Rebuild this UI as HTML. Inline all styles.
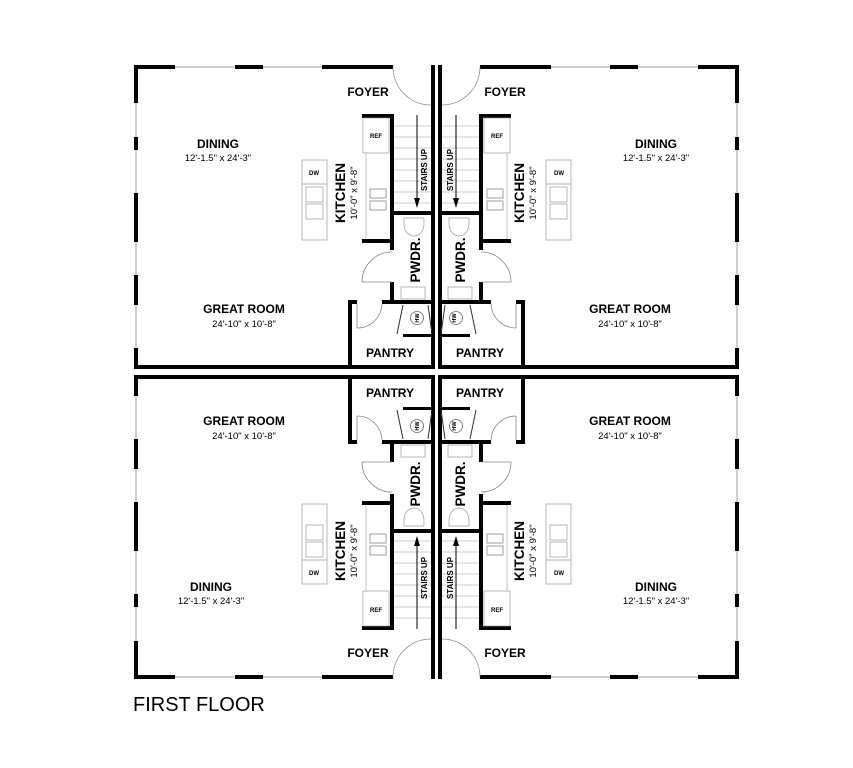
<!DOCTYPE html>
<html><head><meta charset="utf-8"><style>
body{margin:0;background:#fff;}
svg{display:block;}
text{font-family:"Liberation Sans",sans-serif;fill:#000;}
.b{font-weight:bold;font-size:12px;}
.k{font-weight:bold;font-size:13.5px;}
.d{font-size:9.5px;}
.s{font-weight:bold;font-size:8px;}
.t{font-size:5.5px;font-weight:bold;}
</style></head><body>
<svg width="853" height="768" viewBox="0 0 853 768" xmlns="http://www.w3.org/2000/svg">
<rect width="853" height="768" fill="#fff"/>
<defs>
<g id="u">
  <rect x="134" y="65" width="259" height="4" fill="#000"/>
  <rect x="134" y="65" width="4" height="304" fill="#000"/>
  <rect x="134" y="365" width="301" height="4" fill="#000"/>
  <rect x="431" y="65" width="4" height="304" fill="#000"/>
  <rect x="175" y="65" width="60" height="4" fill="#fff"/><rect x="175" y="66" width="60" height="2" fill="#d0d0d0"/>
  <rect x="263" y="65" width="59" height="4" fill="#fff"/><rect x="263" y="66" width="59" height="2" fill="#d0d0d0"/>
  <rect x="134" y="103" width="4" height="34" fill="#fff"/><rect x="135" y="103" width="2" height="34" fill="#d0d0d0"/>
  <rect x="134" y="150" width="4" height="43" fill="#fff"/><rect x="135" y="150" width="2" height="43" fill="#d0d0d0"/>
  <rect x="134" y="242" width="4" height="33" fill="#fff"/><rect x="135" y="242" width="2" height="33" fill="#d0d0d0"/>
  <rect x="134" y="305" width="4" height="43" fill="#fff"/><rect x="135" y="305" width="2" height="43" fill="#d0d0d0"/>
  <path d="M393,67 A38,38 0 0 0 431,105" fill="none" stroke="#888" stroke-width="0.8"/>
  <rect x="362" y="114" width="32" height="4" fill="#000"/>
  <rect x="390" y="114" width="4" height="136" fill="#000"/>
  <rect x="390" y="282" width="4" height="20" fill="#000"/>
  <rect x="362" y="239" width="32" height="4" fill="#000"/>
  <rect x="390" y="211" width="43" height="4" fill="#000"/>
  <rect x="348" y="300" width="9" height="4" fill="#000"/>
  <rect x="382" y="300" width="51" height="4" fill="#000"/>
  <rect x="348" y="300" width="4" height="69" fill="#000"/>
  <rect x="403" y="334" width="30" height="3" fill="#000"/>
  <path d="M357,304 L357,328 M357,328 A25,25 0 0 0 382,304" fill="none" stroke="#888" stroke-width="0.8"/>
  <path d="M403,305 L397,334 M428,305 L432,334" stroke="#333" stroke-width="1"/>
  <circle cx="417" cy="318" r="6.5" fill="none" stroke="#666" stroke-width="0.8"/>
  <path d="M392,252 A30,30 0 0 0 362,282 L392,282" fill="none" stroke="#888" stroke-width="0.8"/>
  <path d="M404,218 h20 v6 a10,12 0 0 1 -20,0 z" fill="none" stroke="#999" stroke-width="0.7"/>
  <rect x="401" y="287" width="24" height="12" fill="none" stroke="#999" stroke-width="0.7"/>
  <rect x="363" y="118" width="26" height="35" fill="none" stroke="#999" stroke-width="0.7"/>
  <line x1="366" y1="153" x2="366" y2="239" stroke="#aaa" stroke-width="0.7"/>
  <rect x="370" y="189" width="16" height="9" fill="none" stroke="#888" stroke-width="0.8"/>
  <rect x="370" y="201" width="16" height="9" fill="none" stroke="#888" stroke-width="0.8"/>
  <rect x="302" y="160" width="25" height="80" fill="none" stroke="#999" stroke-width="0.7"/>
  <line x1="302" y1="184" x2="327" y2="184" stroke="#999" stroke-width="0.7"/>
  <rect x="306" y="187" width="17" height="15" fill="none" stroke="#999" stroke-width="0.7"/>
  <rect x="306" y="204" width="17" height="15" fill="none" stroke="#999" stroke-width="0.7"/>
  <g stroke="#bbb" stroke-width="0.7">
    <line x1="394" y1="126" x2="431" y2="126"/><line x1="394" y1="137" x2="431" y2="137"/>
    <line x1="394" y1="148" x2="431" y2="148"/><line x1="394" y1="159" x2="431" y2="159"/>
    <line x1="394" y1="170" x2="431" y2="170"/><line x1="394" y1="181" x2="431" y2="181"/>
    <line x1="394" y1="192" x2="431" y2="192"/><line x1="394" y1="203" x2="431" y2="203"/>
  </g>
  <line x1="417" y1="115" x2="417" y2="203" stroke="#000" stroke-width="1"/>
  <path d="M414,198 L417,208 L420,198 Z" fill="#000"/>
</g>
</defs>
<use href="#u"/>
<use href="#u" transform="matrix(-1,0,0,1,873,0)"/>
<use href="#u" transform="matrix(1,0,0,-1,0,744)"/>
<use href="#u" transform="matrix(-1,0,0,-1,873,744)"/>

<!-- TL -->
<text class="b" x="368" y="96" text-anchor="middle">FOYER</text>
<text class="b" x="218" y="148" text-anchor="middle">DINING</text>
<text class="d" x="218" y="161" text-anchor="middle">12'-1.5" x 24'-3"</text>
<text class="b" x="244" y="313" text-anchor="middle">GREAT ROOM</text>
<text class="d" x="244" y="327" text-anchor="middle">24'-10" x 10'-8"</text>
<text class="b" x="390" y="357" text-anchor="middle">PANTRY</text>
<text class="k" transform="translate(345,193) rotate(-90)" text-anchor="middle">KITCHEN</text>
<text class="d" transform="translate(357,193) rotate(-90)" text-anchor="middle">10'-0" x 9'-8"</text>
<text class="k" transform="translate(420,260) rotate(-90)" text-anchor="middle">PWDR.</text>
<text class="s" transform="translate(427,170) rotate(-90)" text-anchor="middle">STAIRS UP</text>
<text class="s" x="376" y="138" text-anchor="middle" style="font-size:6px">REF</text>
<text class="s" x="314" y="175" text-anchor="middle" style="font-size:6px">DW</text>
<text class="t" transform="translate(419,318) rotate(-90)" text-anchor="middle">HW</text>

<!-- TR -->
<text class="b" x="505" y="96" text-anchor="middle">FOYER</text>
<text class="b" x="656" y="148" text-anchor="middle">DINING</text>
<text class="d" x="656" y="161" text-anchor="middle">12'-1.5" x 24'-3"</text>
<text class="b" x="630" y="313" text-anchor="middle">GREAT ROOM</text>
<text class="d" x="630" y="327" text-anchor="middle">24'-10" x 10'-8"</text>
<text class="b" x="480" y="357" text-anchor="middle">PANTRY</text>
<text class="k" transform="translate(524,193) rotate(-90)" text-anchor="middle">KITCHEN</text>
<text class="d" transform="translate(536,193) rotate(-90)" text-anchor="middle">10'-0" x 9'-8"</text>
<text class="k" transform="translate(465,260) rotate(-90)" text-anchor="middle">PWDR.</text>
<text class="s" transform="translate(453,170) rotate(-90)" text-anchor="middle">STAIRS UP</text>
<text class="s" x="497" y="138" text-anchor="middle" style="font-size:6px">REF</text>
<text class="s" x="559" y="175" text-anchor="middle" style="font-size:6px">DW</text>
<text class="t" transform="translate(456,318) rotate(-90)" text-anchor="middle">HW</text>

<!-- BL -->
<text class="b" x="368" y="657" text-anchor="middle">FOYER</text>
<text class="b" x="211" y="591" text-anchor="middle">DINING</text>
<text class="d" x="211" y="604" text-anchor="middle">12'-1.5" x 24'-3"</text>
<text class="b" x="244" y="425" text-anchor="middle">GREAT ROOM</text>
<text class="d" x="244" y="439" text-anchor="middle">24'-10" x 10'-8"</text>
<text class="b" x="390" y="397" text-anchor="middle">PANTRY</text>
<text class="k" transform="translate(345,551) rotate(-90)" text-anchor="middle">KITCHEN</text>
<text class="d" transform="translate(357,551) rotate(-90)" text-anchor="middle">10'-0" x 9'-8"</text>
<text class="k" transform="translate(420,484) rotate(-90)" text-anchor="middle">PWDR.</text>
<text class="s" transform="translate(427,578) rotate(-90)" text-anchor="middle">STAIRS UP</text>
<text class="s" x="376" y="612" text-anchor="middle" style="font-size:6px">REF</text>
<text class="s" x="314" y="575" text-anchor="middle" style="font-size:6px">DW</text>
<text class="t" transform="translate(419,426) rotate(-90)" text-anchor="middle">HW</text>

<!-- BR -->
<text class="b" x="505" y="657" text-anchor="middle">FOYER</text>
<text class="b" x="656" y="591" text-anchor="middle">DINING</text>
<text class="d" x="656" y="604" text-anchor="middle">12'-1.5" x 24'-3"</text>
<text class="b" x="630" y="425" text-anchor="middle">GREAT ROOM</text>
<text class="d" x="630" y="439" text-anchor="middle">24'-10" x 10'-8"</text>
<text class="b" x="480" y="397" text-anchor="middle">PANTRY</text>
<text class="k" transform="translate(524,551) rotate(-90)" text-anchor="middle">KITCHEN</text>
<text class="d" transform="translate(536,551) rotate(-90)" text-anchor="middle">10'-0" x 9'-8"</text>
<text class="k" transform="translate(465,484) rotate(-90)" text-anchor="middle">PWDR.</text>
<text class="s" transform="translate(453,578) rotate(-90)" text-anchor="middle">STAIRS UP</text>
<text class="s" x="497" y="612" text-anchor="middle" style="font-size:6px">REF</text>
<text class="s" x="559" y="575" text-anchor="middle" style="font-size:6px">DW</text>
<text class="t" transform="translate(456,426) rotate(-90)" text-anchor="middle">HW</text>

<text x="133" y="711" style="font-size:20px">FIRST FLOOR</text>
</svg>
</body></html>
